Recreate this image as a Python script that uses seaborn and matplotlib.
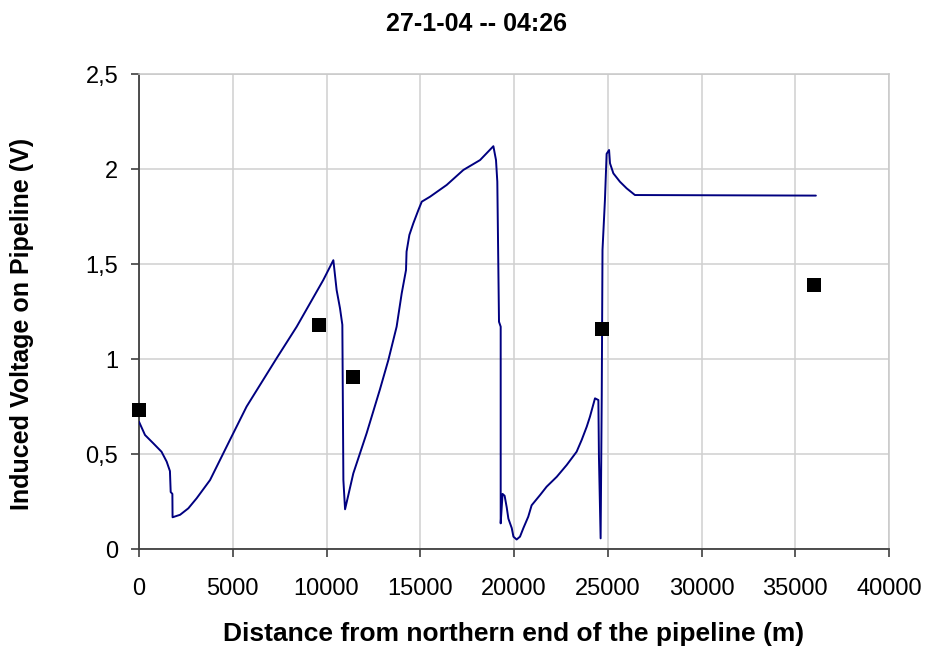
import matplotlib
matplotlib.use("Agg")
import matplotlib.pyplot as plt
import seaborn as sns
import pandas as pd

# ---- data ----
dist_m = [0, 320, 765, 1200, 1475, 1650, 1690, 1780, 1790, 2190, 2630, 3075,
          3790, 4850, 5740, 7340, 8410, 9830, 10365, 10540, 10720, 10845,
          10900, 10990, 11430, 12140, 12850, 13300, 13740, 14010, 14240,
          14270, 14420, 14630, 14900, 15080, 15520, 16410, 17300, 18190,
          18900, 19040, 19110, 19200, 19290, 19290, 19390, 19500, 19610,
          19700, 19880, 19970, 20140, 20320, 20500, 20760, 20940, 21390,
          21740, 22280, 22810, 23340, 23610, 23880, 24050, 24320, 24500,
          24530, 24620, 24680, 24720, 24850, 24940, 25070, 25120, 25300,
          25650, 26010, 26450, 36100]
voltage_v = [0.67, 0.60, 0.556, 0.512, 0.46, 0.41, 0.30, 0.29, 0.167, 0.18,
             0.214, 0.267, 0.363, 0.574, 0.75, 1.004, 1.17, 1.416, 1.52,
             1.363, 1.267, 1.18, 0.363, 0.209, 0.398, 0.609, 0.84, 0.995,
             1.17, 1.345, 1.468, 1.565, 1.653, 1.714, 1.784, 1.828, 1.854,
             1.916, 1.995, 2.047, 2.12, 2.047, 1.933, 1.196, 1.17, 0.135,
             0.29, 0.28, 0.22, 0.16, 0.11, 0.065, 0.05, 0.065, 0.11, 0.17,
             0.23, 0.284, 0.328, 0.38, 0.442, 0.512, 0.574, 0.644, 0.696,
             0.793, 0.784, 0.486, 0.056, 0.81, 1.574, 1.837, 2.08, 2.10,
             2.03, 1.977, 1.933, 1.898, 1.863, 1.86]

meas_dist_m = [0, 9620, 11430, 24680, 36000]
meas_voltage_v = [0.73, 1.18, 0.907, 1.158, 1.39]

x_ticks = [0, 5000, 10000, 15000, 20000, 25000, 30000, 35000, 40000]
y_ticks = [0, 0.5, 1, 1.5, 2, 2.5]
y_tick_labels = ["0", "0,5", "1", "1,5", "2", "2,5"]

title_text = "27-1-04 -- 04:26"
x_label = "Distance from northern end of the pipeline (m)"
y_label = "Induced Voltage on Pipeline (V)"

# ---- plot ----
sns.set_theme(style="white")
plt.rcParams["font.family"] = ["Liberation Sans", "DejaVu Sans"]
plt.rcParams["text.color"] = "black"

line_df = pd.DataFrame({"dist": dist_m, "volt": voltage_v})
meas_df = pd.DataFrame({"dist": meas_dist_m, "volt": meas_voltage_v})

W, H = 927, 648
fig = plt.figure(figsize=(W / 100, H / 100), dpi=100)
ax = fig.add_axes([139 / W, 1 - 549 / H, 750 / W, 475 / H])

sns.lineplot(data=line_df, x="dist", y="volt", sort=False, estimator=None,
             color="#000080", linewidth=1.4, ax=ax, zorder=3)
sns.scatterplot(data=meas_df, x="dist", y="volt", marker="s", s=110,
                color="black", edgecolor="black", linewidth=0, ax=ax, zorder=4,
                clip_on=False)

ax.set_xlim(0, 40000)
ax.set_ylim(0, 2.5)
ax.set_xticks(x_ticks)
ax.set_xticklabels([str(t) for t in x_ticks])
ax.set_yticks(y_ticks)
ax.set_yticklabels(y_tick_labels)

ax.grid(True, color="#d0d0d0", linewidth=1.1)
ax.set_axisbelow(True)
for side in ["top", "right"]:
    ax.spines[side].set_color("#c8c8c8")
    ax.spines[side].set_linewidth(1.1)
for side in ["left", "bottom"]:
    ax.spines[side].set_color("#404040")
    ax.spines[side].set_linewidth(1.3)

ax.tick_params(axis="both", which="major", direction="out", length=6,
               width=1.2, color="#404040", labelsize=17, labelcolor="black",
               bottom=True, left=True)
ax.tick_params(axis="x", pad=15)
ax.tick_params(axis="y", pad=9)

ax.set_xlabel("")
ax.set_ylabel("")
fig.text(476 / W, 1 - 31 / H, title_text, fontsize=18, fontweight="bold",
         ha="center", va="baseline", color="black")
fig.text(514 / W, 1 - 641 / H, x_label, fontsize=19, fontweight="bold",
         ha="center", va="baseline", color="black")
fig.text(22 / W, 1 - 324 / H, y_label, fontsize=18, fontweight="bold",
         ha="center", va="center", rotation=90, color="black")

fig.savefig("out.png", dpi=100, facecolor="white")
